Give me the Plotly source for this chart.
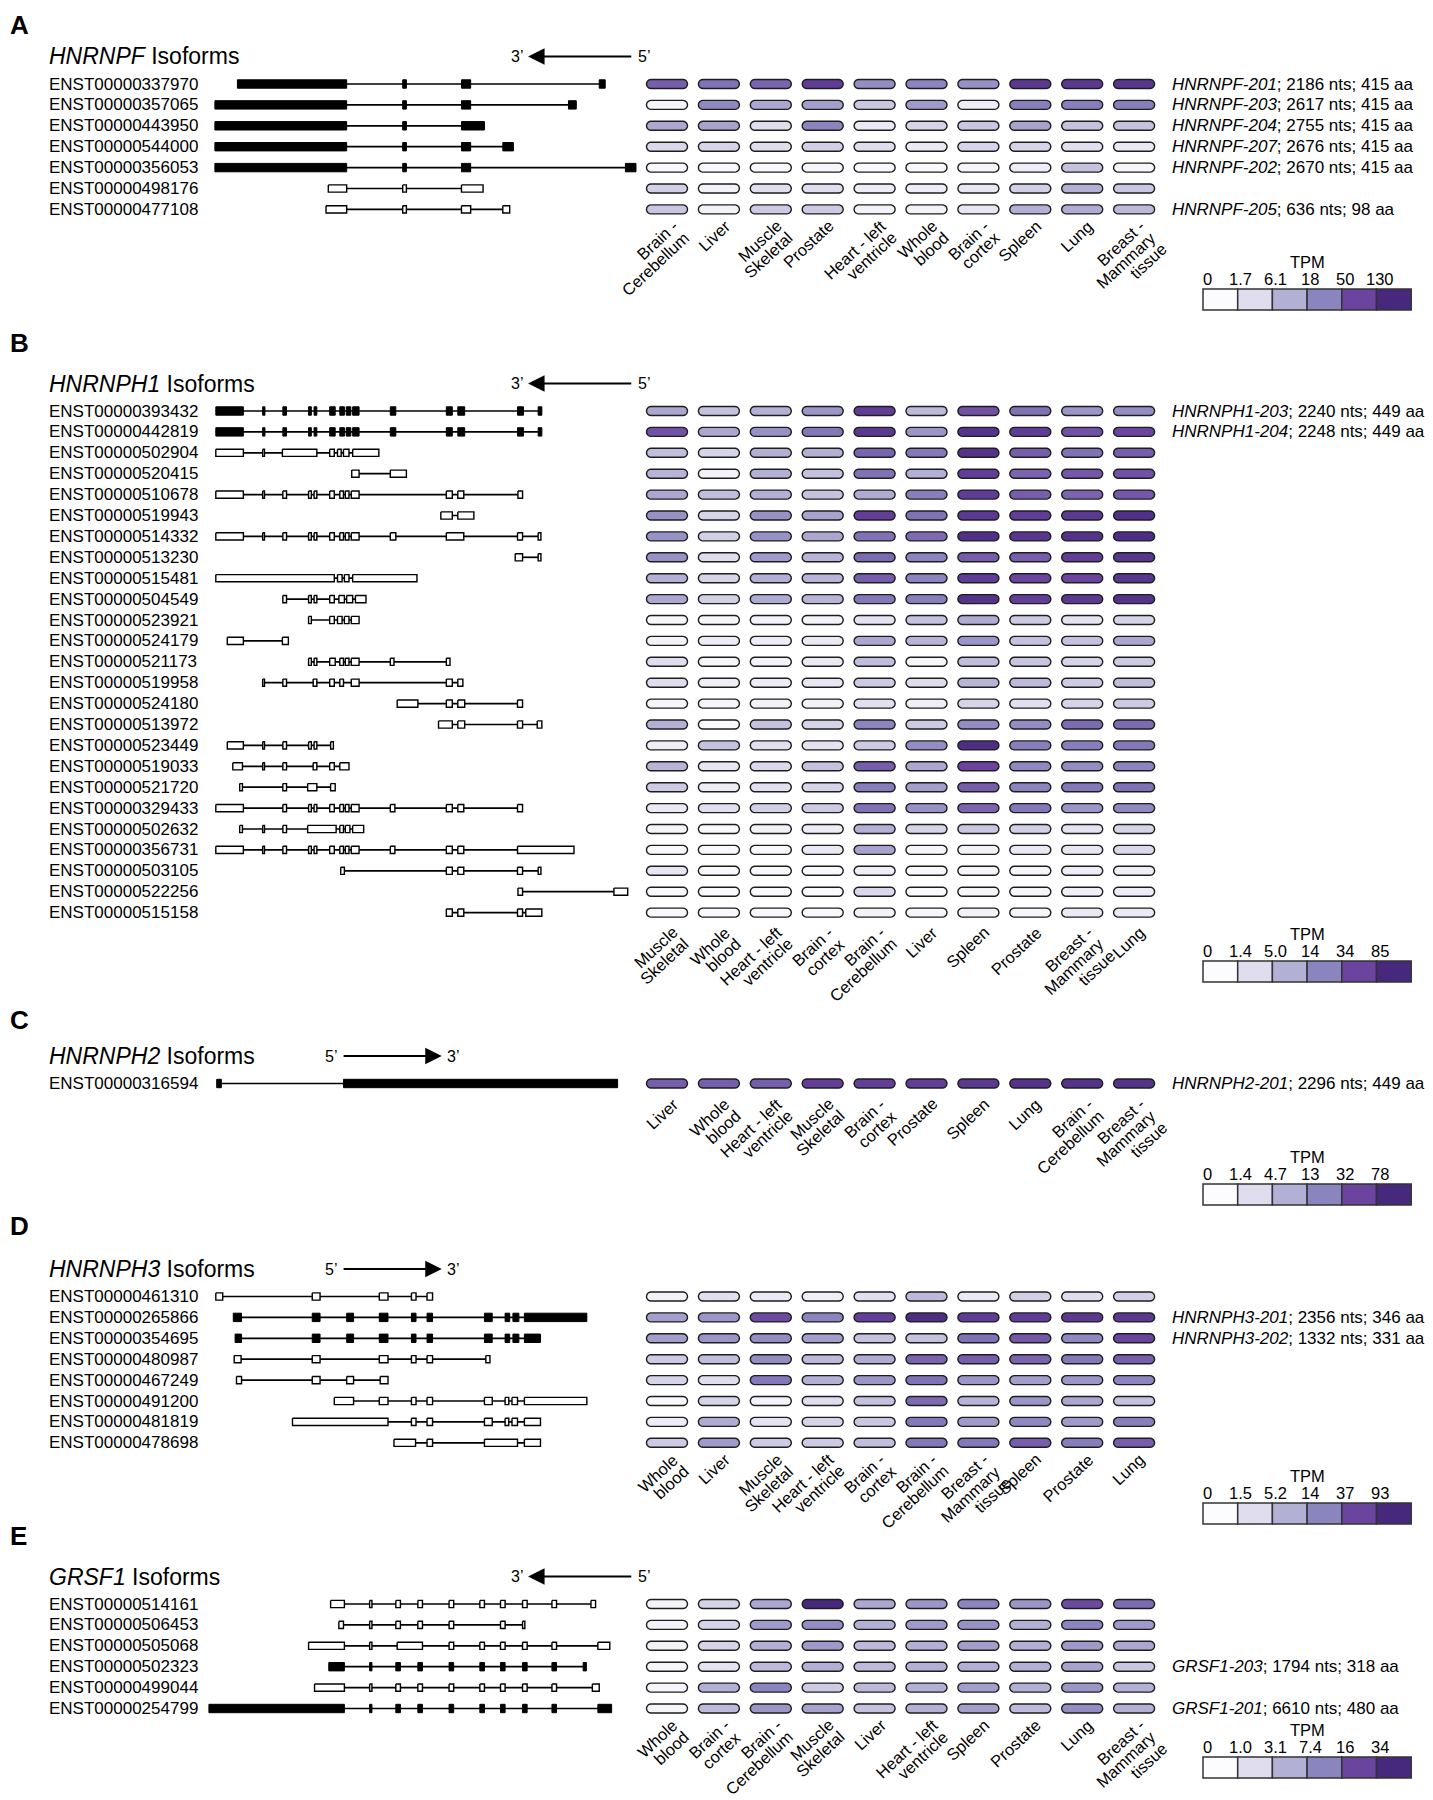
import math
import plotly.graph_objects as go

# ---------------------------------------------------------------- DATA
# exon coordinates are in relative genomic units (left -> right as drawn)
A_gene = "HNRNPF"
A_transcripts = ["ENST00000337970", "ENST00000357065", "ENST00000443950", "ENST00000544000",
                 "ENST00000356053", "ENST00000498176", "ENST00000477108"]
A_coding = [1, 1, 1, 1, 1, 0, 0]
A_exons = [
    [(517, 755), (877, 885), (1005, 1025), (1305, 1318)],
    [(468, 755), (877, 885), (1005, 1025), (1238, 1255)],
    [(468, 755), (877, 885), (1005, 1055)],
    [(468, 755), (877, 885), (1005, 1025), (1095, 1118)],
    [(468, 755), (877, 885), (1005, 1025), (1362, 1385)],
    [(715, 755), (877, 885), (1005, 1052)],
    [(710, 755), (877, 885), (1005, 1025), (1095, 1110)],
]
A_tissues = ["Brain -<br>Cerebellum", "Liver", "Muscle<br>Skeletal", "Prostate", "Heart - left<br>ventricle",
             "Whole<br>blood", "Brain -<br>cortex", "Spleen", "Lung", "Breast -<br>Mammary<br>tissue"]
A_level = [
    [3.6, 3.3, 3.5, 4.3, 2.8, 3.0, 2.7, 4.4, 4.4, 4.5],
    [0.2, 2.9, 2.2, 2.4, 1.5, 2.5, 0.5, 3.1, 3.1, 3.1],
    [2.2, 2.3, 1.0, 3.0, 0.6, 1.2, 1.5, 2.3, 1.6, 1.6],
    [1.1, 1.2, 1.0, 1.3, 1.0, 0.6, 1.2, 1.2, 0.9, 0.6],
    [0.1, 0.1, 0.1, 0.2, 0.1, 0.1, 0.2, 0.5, 1.6, 0.2],
    [1.3, 0.3, 1.0, 1.0, 0.5, 0.5, 0.7, 1.3, 2.0, 1.5],
    [1.5, 0.3, 1.4, 1.4, 0.3, 0.3, 0.7, 2.0, 2.1, 1.8],
]
A_notes = [("HNRNPF-201", "2186 nts; 415 aa"), ("HNRNPF-203", "2617 nts; 415 aa"),
           ("HNRNPF-204", "2755 nts; 415 aa"), ("HNRNPF-207", "2676 nts; 415 aa"),
           ("HNRNPF-202", "2670 nts; 415 aa"), None, ("HNRNPF-205", "636 nts; 98 aa")]
A_ticks = ["0", "1.7", "6.1", "18", "50", "130"]

B_gene = "HNRNPH1"
B_transcripts = ["ENST00000393432", "ENST00000442819", "ENST00000502904", "ENST00000520415",
                 "ENST00000510678", "ENST00000519943", "ENST00000514332", "ENST00000513230",
                 "ENST00000515481", "ENST00000504549", "ENST00000523921", "ENST00000524179",
                 "ENST00000521173", "ENST00000519958", "ENST00000524180", "ENST00000513972",
                 "ENST00000523449", "ENST00000519033", "ENST00000521720", "ENST00000329433",
                 "ENST00000502632", "ENST00000356731", "ENST00000503105", "ENST00000522256",
                 "ENST00000515158"]
B_coding = [1, 1] + [0] * 23
_b_full = [(470, 530), (572, 577), (616, 624), (672, 678), (684, 690), (718, 730), (740, 750),
           (754, 764), (768, 782), (850, 862), (972, 985), (997, 1012), (1127, 1140), (1172, 1180)]
B_exons = [
    _b_full,
    _b_full,
    [(470, 530), (572, 576), (615, 690), (718, 728), (735, 743), (748, 760), (768, 825)],
    [(766, 782), (850, 885)],
    [(470, 530), (572, 576), (616, 624), (672, 678), (684, 690), (718, 728), (740, 748), (752, 760),
     (765, 782), (972, 985), (997, 1010), (1128, 1138)],
    [(960, 985), (997, 1032)],
    [(470, 530), (572, 576), (616, 624), (672, 678), (684, 690), (718, 728), (740, 748), (752, 760),
     (765, 782), (850, 862), (972, 1010), (1127, 1138), (1172, 1178)],
    [(1122, 1138), (1172, 1178)],
    [(470, 728), (735, 745), (750, 760), (768, 908)],
    [(616, 624), (672, 678), (684, 690), (718, 728), (738, 750), (755, 768), (774, 797)],
    [(672, 678), (718, 728), (735, 745), (750, 760), (765, 782)],
    [(495, 530), (615, 628)],
    [(672, 678), (684, 690), (718, 730), (740, 748), (752, 760), (765, 782), (850, 858), (972, 980)],
    [(572, 576), (616, 624), (682, 690), (718, 728), (740, 748), (765, 782), (972, 985), (997, 1008)],
    [(865, 910), (972, 985), (997, 1012), (1127, 1138)],
    [(955, 985), (997, 1012), (1127, 1138), (1170, 1180)],
    [(495, 530), (572, 576), (616, 624), (672, 678), (684, 690), (720, 726)],
    [(507, 528), (572, 576), (616, 624), (682, 690), (718, 728), (740, 760)],
    [(522, 528), (616, 624), (670, 690), (720, 730)],
    [(470, 530), (616, 624), (672, 678), (684, 690), (718, 728), (740, 748), (752, 760), (765, 782),
     (850, 860), (972, 985), (997, 1010), (1127, 1138)],
    [(522, 528), (572, 576), (616, 624), (670, 732), (740, 748), (752, 762), (768, 792)],
    [(470, 530), (572, 576), (616, 624), (672, 678), (684, 690), (718, 728), (740, 748), (752, 760),
     (765, 782), (850, 860), (972, 985), (997, 1010), (1127, 1250)],
    [(742, 750), (972, 985), (997, 1010), (1127, 1138), (1172, 1178)],
    [(1128, 1138), (1337, 1367)],
    [(972, 985), (997, 1010), (1127, 1138), (1145, 1180)],
]
B_tissues = ["Muscle<br>Skeletal", "Whole<br>blood", "Heart - left<br>ventricle", "Brain -<br>cortex",
             "Brain -<br>Cerebellum", "Liver", "Spleen", "Prostate", "Breast -<br>Mammary<br>tissue", "Lung"]
B_level = [
    [2.2, 1.6, 2.0, 2.6, 4.3, 1.8, 3.8, 3.3, 2.6, 2.8],
    [3.8, 2.2, 2.7, 3.2, 4.4, 2.6, 4.6, 4.3, 3.8, 4.0],
    [1.7, 1.2, 2.0, 2.0, 3.5, 3.2, 4.6, 3.6, 3.3, 3.6],
    [1.9, 0.3, 2.0, 1.6, 3.3, 2.0, 4.2, 3.5, 3.7, 3.8],
    [2.2, 1.7, 2.0, 1.6, 2.1, 3.1, 4.3, 3.6, 3.5, 3.7],
    [2.7, 1.2, 2.7, 2.3, 4.2, 3.3, 4.4, 4.3, 4.4, 4.7],
    [2.7, 1.3, 2.7, 2.2, 3.3, 3.4, 4.7, 4.5, 4.6, 4.8],
    [2.7, 1.0, 2.5, 1.9, 3.4, 3.0, 3.6, 3.6, 4.2, 4.5],
    [2.0, 1.2, 2.0, 1.9, 3.6, 3.0, 4.3, 4.0, 4.0, 4.5],
    [2.2, 1.3, 2.1, 1.9, 3.2, 3.1, 4.6, 4.2, 4.4, 4.6],
    [0.2, 0.2, 0.3, 0.3, 0.8, 1.6, 2.1, 1.4, 0.8, 1.2],
    [0.3, 0.5, 0.5, 0.6, 2.2, 1.9, 2.6, 1.6, 1.6, 2.2],
    [1.0, 0.2, 0.3, 0.6, 1.7, 0.2, 1.7, 1.5, 1.2, 1.4],
    [1.0, 0.4, 0.5, 0.7, 1.4, 1.0, 1.9, 1.8, 1.4, 1.7],
    [0.2, 0.2, 0.3, 0.3, 0.9, 0.4, 1.2, 0.9, 1.2, 1.4],
    [2.0, 0.1, 1.6, 1.2, 3.0, 1.4, 2.8, 2.8, 3.4, 3.4],
    [0.4, 1.6, 0.9, 0.8, 1.4, 2.8, 4.8, 3.1, 3.1, 3.2],
    [1.9, 0.7, 1.1, 1.6, 3.6, 2.2, 4.0, 2.9, 2.8, 3.0],
    [1.4, 0.5, 0.9, 1.2, 3.1, 2.4, 3.6, 3.0, 3.2, 3.3],
    [0.6, 0.9, 1.3, 1.4, 3.3, 2.7, 3.5, 3.2, 2.6, 2.9],
    [0.2, 0.1, 0.3, 0.5, 2.0, 1.2, 1.5, 1.3, 0.8, 1.2],
    [0.1, 0.1, 0.1, 0.6, 2.3, 0.2, 0.3, 0.6, 0.7, 1.1],
    [0.7, 0.1, 0.1, 0.1, 0.4, 0.1, 0.2, 0.2, 0.5, 0.4],
    [0.1, 0.1, 0.1, 0.1, 1.1, 0.1, 0.2, 0.2, 0.4, 0.5],
    [0.1, 0.1, 0.1, 0.1, 0.3, 0.2, 0.3, 0.2, 0.6, 0.6],
]
B_notes = [("HNRNPH1-203", "2240 nts; 449 aa"), ("HNRNPH1-204", "2248 nts; 449 aa")] + [None] * 23
B_ticks = ["0", "1.4", "5.0", "14", "34", "85"]

C_gene = "HNRNPH2"
C_transcripts = ["ENST00000316594"]
C_coding = [1]
C_exons = [[(472, 482), (748, 1345)]]
C_tissues = ["Liver", "Whole<br>blood", "Heart - left<br>ventricle", "Muscle<br>Skeletal", "Brain -<br>cortex",
             "Prostate", "Spleen", "Lung", "Brain -<br>Cerebellum", "Breast -<br>Mammary<br>tissue"]
C_level = [[3.6, 3.6, 3.6, 4.2, 4.2, 4.2, 4.4, 4.6, 4.6, 4.6]]
C_notes = [("HNRNPH2-201", "2296 nts; 449 aa")]
C_ticks = ["0", "1.4", "4.7", "13", "32", "78"]

D_gene = "HNRNPH3"
D_transcripts = ["ENST00000461310", "ENST00000265866", "ENST00000354695", "ENST00000480987",
                 "ENST00000467249", "ENST00000491200", "ENST00000481819", "ENST00000478698"]
D_coding = [0, 1, 1, 0, 0, 0, 0, 0]
D_exons = [
    [(470, 485), (680, 697), (826, 845), (896, 906), (930, 942)],
    [(508, 526), (680, 697), (755, 770), (826, 845), (896, 906), (930, 942), (1055, 1072),
     (1100, 1110), (1117, 1130), (1142, 1278)],
    [(512, 526), (680, 697), (755, 770), (826, 845), (896, 906), (930, 942), (1055, 1072),
     (1100, 1110), (1117, 1130), (1142, 1177)],
    [(510, 525), (680, 697), (826, 845), (896, 906), (930, 942), (1058, 1067)],
    [(515, 526), (680, 697), (755, 770), (828, 845)],
    [(728, 770), (826, 845), (896, 906), (930, 942), (1055, 1072), (1100, 1108), (1115, 1127), (1142, 1278)],
    [(637, 845), (896, 906), (930, 942), (1055, 1072), (1100, 1108), (1115, 1127), (1142, 1177)],
    [(858, 905), (930, 942), (1055, 1127), (1142, 1177)],
]
D_tissues = ["Whole<br>blood", "Liver", "Muscle<br>Skeletal", "Heart - left<br>ventricle", "Brain -<br>cortex",
             "Brain -<br>Cerebellum", "Breast -<br>Mammary<br>tissue", "Spleen", "Prostate", "Lung"]
D_level = [
    [0.3, 0.9, 0.6, 0.4, 0.9, 1.8, 0.6, 1.3, 1.0, 1.3],
    [2.4, 2.6, 3.9, 3.0, 4.2, 4.8, 4.3, 4.3, 4.4, 4.4],
    [2.4, 2.6, 2.8, 2.4, 1.6, 1.6, 3.3, 3.7, 2.9, 4.0],
    [1.4, 1.7, 2.8, 1.8, 2.1, 3.5, 3.6, 3.5, 3.2, 3.6],
    [1.2, 1.0, 3.2, 2.0, 2.6, 3.3, 2.6, 2.4, 2.6, 3.0],
    [0.1, 1.2, 0.3, 1.0, 1.6, 3.4, 1.9, 2.6, 2.2, 1.6],
    [0.5, 2.1, 0.8, 1.2, 1.5, 3.2, 2.5, 2.9, 2.5, 3.1],
    [1.4, 2.5, 1.4, 1.4, 1.7, 3.2, 3.2, 3.6, 3.1, 3.6],
]
D_notes = [None, ("HNRNPH3-201", "2356 nts; 346 aa"), ("HNRNPH3-202", "1332 nts; 331 aa")] + [None] * 5
D_ticks = ["0", "1.5", "5.2", "14", "37", "93"]

E_gene = "GRSF1"
E_transcripts = ["ENST00000514161", "ENST00000506453", "ENST00000505068", "ENST00000502323",
                 "ENST00000499044", "ENST00000254799"]
E_coding = [0, 0, 0, 1, 0, 1]
_e_mid = [(805, 810), (862, 872), (910, 920), (978, 988), (1045, 1055), (1090, 1100), (1138, 1148), (1202, 1212)]
E_exons = [
    [(720, 750)] + _e_mid + [(1287, 1297)],
    [(738, 748), (805, 810), (862, 872), (910, 920), (978, 988), (1090, 1100), (1138, 1143)],
    [(672, 750), (805, 810), (865, 920), (978, 988), (1045, 1055), (1090, 1100), (1138, 1148),
     (1202, 1212), (1302, 1328)],
    [(716, 750)] + _e_mid + [(1270, 1277)],
    [(685, 750)] + _e_mid + [(1290, 1305)],
    [(455, 750)] + _e_mid + [(1302, 1332)],
]
E_tissues = ["Whole<br>blood", "Brain -<br>cortex", "Brain -<br>Cerebellum", "Muscle<br>Skeletal", "Liver",
             "Heart - left<br>ventricle", "Spleen", "Prostate", "Lung", "Breast -<br>Mammary<br>tissue"]
E_level = [
    [0.3, 1.2, 2.2, 5.0, 2.2, 2.6, 3.0, 2.6, 3.9, 3.4],
    [0.3, 1.2, 2.5, 2.8, 2.0, 2.5, 2.7, 2.0, 3.0, 2.5],
    [0.3, 1.2, 2.0, 2.5, 1.8, 2.0, 2.4, 2.0, 2.5, 2.2],
    [0.2, 0.8, 1.8, 2.0, 1.8, 2.0, 2.0, 2.0, 2.3, 1.5],
    [0.2, 2.0, 3.0, 1.4, 1.8, 2.0, 2.4, 2.0, 2.6, 2.0],
    [0.2, 1.8, 2.6, 2.3, 1.6, 2.0, 2.4, 1.8, 2.8, 2.0],
]
E_notes = [None, None, None, ("GRSF1-203", "1794 nts; 318 aa"), None, ("GRSF1-201", "6610 nts; 480 aa")]
E_ticks = ["0", "1.0", "3.1", "7.4", "16", "34"]

LEVEL_COLORS = ["#fcfbfd", "#dfddee", "#b3b0d6", "#8a85bf", "#6a449f", "#46287d"]

# ---------------------------------------------------------------- LAYOUT CONSTANTS
W, H = 1433, 1800          # page / window
OFF = 8                    # default body margin of the html page
FW, FH = W - OFF, H - OFF  # figure size
ROW_SP = 20.9
GENE_PX = 720 / 1568.0        # px per genomic unit
COL_X0, COL_SP = 667.0, 51.9  # heat columns
FONT = "Liberation Sans, Arial, Helvetica, sans-serif"
LAB_ANGLE = 43.0
LAB_FS = 16.5
LAB_LH = 16.0

panels = [
    dict(letter="A", gene=A_gene, tx=A_transcripts, coding=A_coding, exons=A_exons, tissues=A_tissues,
         level=A_level, notes=A_notes, ticks=A_ticks, letter_y=21, row0=84, legend_top=289,
         arrow="left", lab_dy=14),
    dict(letter="B", gene=B_gene, tx=B_transcripts, coding=B_coding, exons=B_exons, tissues=B_tissues,
         level=B_level, notes=B_notes, ticks=B_ticks, letter_y=340, row0=411, legend_top=961,
         arrow="left", lab_dy=17),
    dict(letter="C", gene=C_gene, tx=C_transcripts, coding=C_coding, exons=C_exons, tissues=C_tissues,
         level=C_level, notes=C_notes, ticks=C_ticks, letter_y=1017, row0=1083.5, legend_top=1184,
         arrow="right", lab_dy=18),
    dict(letter="D", gene=D_gene, tx=D_transcripts, coding=D_coding, exons=D_exons, tissues=D_tissues,
         level=D_level, notes=D_notes, ticks=D_ticks, letter_y=1223, row0=1296.5, legend_top=1503,
         arrow="right", lab_dy=14),
    dict(letter="E", gene=E_gene, tx=E_transcripts, coding=E_coding, exons=E_exons, tissues=E_tissues,
         level=E_level, notes=E_notes, ticks=E_ticks, letter_y=1533, row0=1604, legend_top=1757,
         arrow="left", lab_dy=14),
]

CW = {" ": .278, "-": .333, "M": .833, "S": .667, "B": .667, "C": .722, "H": .722, "L": .556, "P": .667,
      "W": .944, "i": .222, "l": .222, "f": .278, "t": .278, "r": .333, "m": .833, "c": .5, "s": .5,
      "v": .5, "y": .5, "k": .5, "x": .5, "w": .722}


def text_w(s, fs):
    return sum(CW.get(ch, .556) for ch in s) * fs


def hex2rgb(h):
    h = h.lstrip("#")
    return tuple(int(h[i:i + 2], 16) for i in (0, 2, 4))


def level_color(v):
    v = max(0.0, min(5.0, v))
    i = min(int(v), 4)
    f = v - i
    a, b = hex2rgb(LEVEL_COLORS[i]), hex2rgb(LEVEL_COLORS[i + 1])
    c = [round(a[k] + (b[k] - a[k]) * f) for k in range(3)]
    return "rgb(%d,%d,%d)" % tuple(c)


def px(x):
    return (x - OFF) / FW


def py(y):
    return 1 - (y - OFF) / FH


fig = go.Figure()
shapes, annos = [], []
layout_axes = {}

layout_axes["xaxis"] = dict(domain=[0, 1], range=[OFF / GENE_PX, W / GENE_PX], visible=False,
                            fixedrange=True, anchor="y")
layout_axes["xaxis2"] = dict(domain=[0, 1], range=[(OFF - COL_X0) / COL_SP, (W - COL_X0) / COL_SP],
                             visible=False, fixedrange=True, anchor="y")


def capsule(cx, cy, wpx=41.0, hpx=9.0, n=10):
    r = hpx / 2.0
    half = wpx / 2.0 - r
    pts = []
    for k in range(n + 1):
        a = -math.pi / 2 + math.pi * k / n
        pts.append((half + r * math.cos(a), r * math.sin(a)))
    for k in range(n + 1):
        a = math.pi / 2 + math.pi * k / n
        pts.append((-half + r * math.cos(a), r * math.sin(a)))
    return "M " + " L ".join("%.4f,%.4f" % (cx + dx / COL_SP, cy + dy / ROW_SP) for dx, dy in pts) + " Z"


ca, sa = math.cos(math.radians(LAB_ANGLE)), math.sin(math.radians(LAB_ANGLE))

for k, p in enumerate(panels, start=1):
    yname = "y" if k == 1 else "y%d" % k
    ykey = "yaxis" if k == 1 else "yaxis%d" % k
    r0 = p["row0"]
    layout_axes[ykey] = dict(domain=[0, 1], range=[(H - r0) / ROW_SP, (OFF - r0) / ROW_SP], visible=False,
                             fixedrange=True, anchor="x")
    nrows = len(p["tx"])

    # introns
    ix, iy = [], []
    for i, ex in enumerate(p["exons"]):
        ix += [min(e[0] for e in ex), max(e[1] for e in ex), None]
        iy += [i, i, None]
    fig.add_trace(go.Scatter(x=ix, y=iy, mode="lines", line=dict(color="black", width=1.7),
                             xaxis="x", yaxis=yname, hoverinfo="skip", showlegend=False))
    # exons
    for filled in (1, 0):
        hh = (4.2 if filled else 3.6) / ROW_SP
        ex_x, ex_y = [], []
        for i, ex in enumerate(p["exons"]):
            if p["coding"][i] != filled:
                continue
            for (a, b) in ex:
                ex_x += [a, b, b, a, a, None]
                ex_y += [i - hh, i - hh, i + hh, i + hh, i - hh, None]
        if ex_x:
            fig.add_trace(go.Scatter(x=ex_x, y=ex_y, mode="lines", fill="toself",
                                     fillcolor="black" if filled else "white",
                                     line=dict(color="black", width=1.0 if filled else 1.4),
                                     xaxis="x", yaxis=yname, hoverinfo="skip", showlegend=False))
    fig.add_trace(go.Scatter(x=[0], y=[0], mode="markers", marker=dict(opacity=0), xaxis="x2", yaxis=yname,
                             hoverinfo="skip", showlegend=False))

    # heat capsules
    for i, row in enumerate(p["level"]):
        for j, v in enumerate(row):
            shapes.append(dict(type="path", xref="x2", yref=yname, path=capsule(j, i),
                               fillcolor=level_color(v), line=dict(color="#1e1e1e", width=1.4), layer="above"))

    for i, t in enumerate(p["tx"]):
        annos.append(dict(text=t, xref="paper", yref=yname, x=px(47), y=i, xanchor="left", yanchor="middle",
                          showarrow=False, font=dict(size=17, color="black", family=FONT)))
    for i, nt in enumerate(p["notes"]):
        if nt:
            annos.append(dict(text="<i>%s</i>; %s" % nt, xref="paper", yref=yname, x=px(1170), y=i,
                              xanchor="left", yanchor="middle", showarrow=False,
                              font=dict(size=17, color="black", family=FONT)))
    # tissue labels, one annotation per line, lines end-aligned
    last = nrows - 1
    for j, t in enumerate(p["tissues"]):
        lines = t.split("<br>")
        p0x = COL_X0 + j * COL_SP + 8
        p0y = r0 + last * ROW_SP + p["lab_dy"]
        for li, ln in enumerate(lines):
            L = text_w(ln, LAB_FS)
            ex_, ey_ = p0x + li * LAB_LH * sa, p0y + li * LAB_LH * ca
            cx, cy = ex_ - L / 2 * ca, ey_ + L / 2 * sa
            annos.append(dict(text=ln, xref="paper", yref="paper", x=px(cx), y=py(cy),
                              xanchor="center", yanchor="middle", textangle=-LAB_ANGLE, showarrow=False,
                              font=dict(size=LAB_FS, color="black", family=FONT)))
    annos.append(dict(text="<b>%s</b>" % p["letter"], xref="paper", yref="paper", x=px(8),
                      y=py(max(p["letter_y"] - 14, OFF)), xanchor="left", yanchor="top", showarrow=False,
                      font=dict(size=26, color="black", family=FONT)))
    annos.append(dict(text="<i>%s</i> Isoforms" % p["gene"], xref="paper", yref="paper", x=px(47),
                      y=py(r0 - 27.5), xanchor="left", yanchor="middle", showarrow=False,
                      font=dict(size=23, color="black", family=FONT)))
    ay_row = -27.5 / ROW_SP
    if p["arrow"] == "left":
        tip, tail, lab_l, lab_r = 1150, 1378, "3\u2019", "5\u2019"
    else:
        tip, tail, lab_l, lab_r = 962, 745, "5\u2019", "3\u2019"
    annos.append(dict(text="", xref="x", yref=yname, x=tip, y=ay_row, axref="x", ayref=yname, ax=tail,
                      ay=ay_row, showarrow=True, arrowhead=2, arrowsize=1.5, arrowwidth=2.2,
                      arrowcolor="black"))
    lo_x, hi_x = min(tip, tail), max(tip, tail)
    annos.append(dict(text=lab_l, xref="x", yref=yname, x=lo_x - 6, y=ay_row, xanchor="right",
                      yanchor="middle", showarrow=False, font=dict(size=16, color="black", family=FONT)))
    annos.append(dict(text=lab_r, xref="x", yref=yname, x=hi_x + 8, y=ay_row, xanchor="left",
                      yanchor="middle", showarrow=False, font=dict(size=16, color="black", family=FONT)))

    # colour legend
    lt = p["legend_top"]
    bw = 34.7
    lx0 = 1203
    for b in range(6):
        shapes.append(dict(type="rect", xref="paper", yref="paper", x0=px(lx0 + b * bw), x1=px(lx0 + (b + 1) * bw),
                           y0=py(lt), y1=py(lt + 21), fillcolor=LEVEL_COLORS[b],
                           line=dict(color="#333333", width=1.5), layer="above"))
        tx_x = lx0 - 2 if b == 0 else lx0 + b * bw + 3
        annos.append(dict(text=p["ticks"][b], xref="paper", yref="paper", x=px(tx_x), y=py(lt - 10),
                          xanchor="left" if b == 0 else "center", yanchor="middle", showarrow=False,
                          font=dict(size=16.5, color="black", family=FONT)))
    annos.append(dict(text="TPM", xref="paper", yref="paper", x=px(lx0 + 3 * bw), y=py(lt - 27),
                      xanchor="center", yanchor="middle", showarrow=False,
                      font=dict(size=16.5, color="black", family=FONT)))

fig.update_layout(width=FW, height=FH, margin=dict(l=0, r=0, t=0, b=0), paper_bgcolor="white",
                  plot_bgcolor="rgba(0,0,0,0)", shapes=shapes, annotations=annos, showlegend=False,
                  **layout_axes)
fig.write_html("out.html")
